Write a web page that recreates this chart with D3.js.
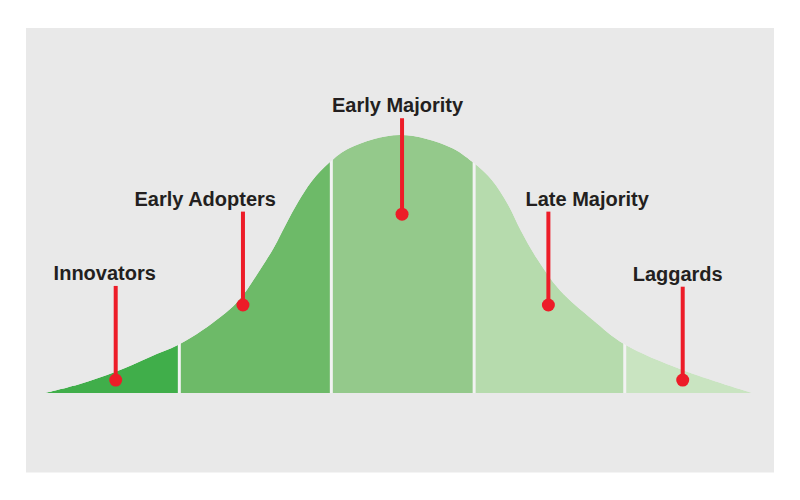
<!DOCTYPE html>
<html>
<head>
<meta charset="utf-8">
<script src="https://cdn.jsdelivr.net/npm/d3@7"></script>
<style>
  html, body { margin: 0; padding: 0; background: #ffffff; }
  svg { display: block; }
  .label { font-family: "Liberation Sans", Arial, sans-serif; font-weight: bold; font-size: 20px; fill: #231f20; }
</style>
</head>
<body>
<svg id="chart" width="800" height="500"></svg>
<script>
// Adoption curve: time along the diffusion timeline (0–100) vs. relative share (peak = 100)
const curveT     = [0, 4.95, 9.9, 14.85, 18.8, 22.3, 27.2, 30.4, 32.4, 34.1, 35.8, 37.7, 40.3, 43.1, 50.2, 57.3, 60.5, 63.2, 65.5, 67.3, 69.6, 72.8, 77.5, 81.9, 90.2, 100];
const curveShare = [0, 3.5, 8.1, 14, 18.6, 24.4, 35.3, 47.7, 56.5, 65.5, 74, 82, 89.5, 95, 100, 95.3, 89.5, 82.6, 73, 63, 52, 39.9, 28.3, 19, 8.9, 0];

// Adopter groups and where each one ends on the timeline
const groups     = ["Innovators", "Early Adopters", "Early Majority", "Late Majority", "Laggards"];
const groupEnds  = [19, 40.5, 60.7, 82, 100];
const groupColor = ["#40ae4a", "#6dba68", "#94c98b", "#b6dbad", "#c9e4c1"];

// Callout for each group: pin position (timeline, share), pin top, and label centre
const pinT       = [10, 28, 50.5, 71.2, 90.2];
const pinShare   = [5, 34.1, 69.3, 34.1, 5];
const pinTop     = [41.5, 70.3, 106.5, 70.3, 41.2];
const labelT     = [8.45, 22.66, 49.86, 76.69, 89.49];

const svg = d3.select("#chart");

// panel background
svg.append("rect")
  .attr("x", 26).attr("y", 28)
  .attr("width", 748).attr("height", 444.5)
  .attr("fill", "#e9e9e9");

const x = d3.scaleLinear().domain([0, 100]).range([45, 752]);
const y = d3.scaleLinear().domain([0, 100]).range([393, 135]);

const pts = curveT.map((t, i) => [t, curveShare[i]]);
const smooth = d3.curveCatmullRom.alpha(0.5);

const area = d3.area()
  .x(d => x(d[0]))
  .y0(y(0))
  .y1(d => y(d[1]))
  .curve(smooth);

const line = d3.line()
  .x(d => x(d[0]))
  .y(d => y(d[1]))
  .curve(smooth);

const defs = svg.append("defs");
const starts = [0].concat(groupEnds.slice(0, -1));

groups.forEach((g, i) => {
  defs.append("clipPath").attr("id", "clip" + i)
    .append("rect")
    .attr("x", x(starts[i]))
    .attr("y", 0)
    .attr("width", x(groupEnds[i]) - x(starts[i]))
    .attr("height", 500);
  svg.append("path")
    .attr("d", area(pts))
    .attr("fill", groupColor[i])
    .attr("clip-path", "url(#clip" + i + ")");
});

// hidden helper path to find the curve height at the group boundaries
const helper = svg.append("path").attr("d", line(pts)).attr("fill", "none").attr("stroke", "none");
const node = helper.node();
const total = node.getTotalLength();
function curveYAt(px) {
  let lo = 0, hi = total;
  for (let k = 0; k < 40; k++) {
    const mid = (lo + hi) / 2;
    if (node.getPointAtLength(mid).x < px) lo = mid; else hi = mid;
  }
  return node.getPointAtLength(lo).y;
}

// separators between groups
groupEnds.slice(0, -1).forEach(t => {
  const px = x(t);
  svg.append("line")
    .attr("x1", px).attr("x2", px)
    .attr("y1", y(0)).attr("y2", curveYAt(px) - 3)
    .attr("stroke", "#f2f2f2")
    .attr("stroke-width", 3);
});

// re-paint the panel over anything poking above the curve at separators
svg.append("path")
  .attr("d", line(pts) + `L${x(100)},${y(0) - 0.01}L${x(100)},28L${x(0)},28L${x(0)},${y(0)}Z`)
  .attr("fill", "#e9e9e9");

// callout pins
groups.forEach((g, i) => {
  svg.append("line")
    .attr("x1", x(pinT[i])).attr("x2", x(pinT[i]))
    .attr("y1", y(pinTop[i])).attr("y2", y(pinShare[i]))
    .attr("stroke", "#ed1c28")
    .attr("stroke-width", 4);
  svg.append("circle")
    .attr("cx", x(pinT[i])).attr("cy", y(pinShare[i]))
    .attr("r", 6.5)
    .attr("fill", "#ed1c28");
  svg.append("text")
    .attr("class", "label")
    .attr("x", x(labelT[i]))
    .attr("y", y(pinTop[i]) - 6)
    .attr("text-anchor", "middle")
    .text(g);
});
</script>
</body>
</html>
